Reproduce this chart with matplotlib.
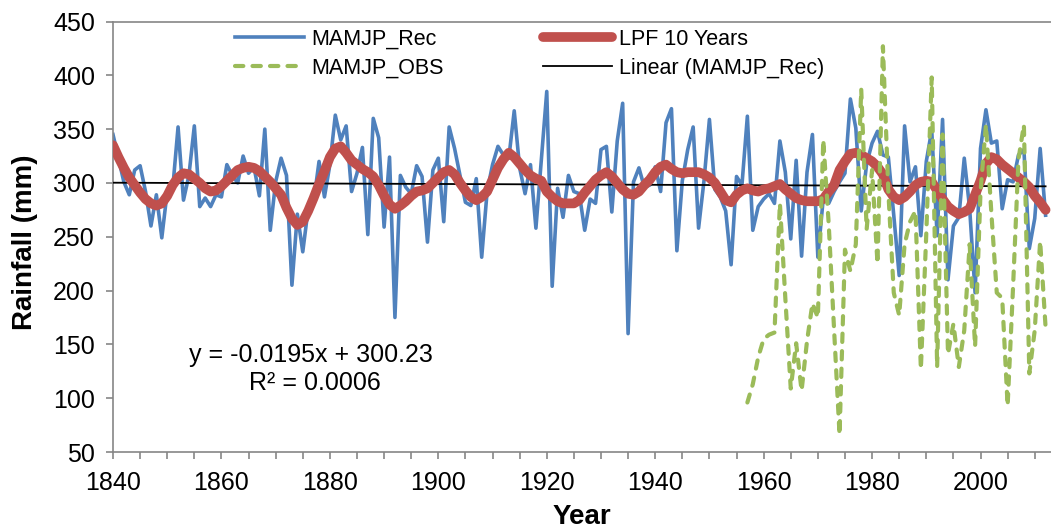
import numpy as np
import matplotlib
matplotlib.use("Agg")
import matplotlib.pyplot as plt
from matplotlib.ticker import MultipleLocator, FixedLocator

plt.rcParams['font.family'] = ['Liberation Sans', 'DejaVu Sans']

# Reconstructed MAM+JP rainfall, 1840-2012 (mm)
rec_years = np.arange(1840, 2013)
rec_values = [
    345, 323, 301, 289, 312, 316, 292, 260, 289, 249,   # 1840s
    292, 294, 352, 284, 307, 353, 278, 286, 278, 289,   # 1850s
    287, 317, 307, 300, 325, 309, 315, 288, 350, 256,   # 1860s
    301, 323, 307, 205, 271, 236, 276, 282, 320, 287,   # 1870s
    317, 363, 340, 353, 292, 309, 333, 252, 360, 342,   # 1880s
    259, 324, 175, 307, 296, 290, 316, 306, 245, 312,   # 1890s
    323, 264, 352, 332, 307, 282, 279, 304, 231, 292,   # 1900s
    317, 334, 326, 323, 367, 314, 290, 317, 258, 322,   # 1910s
    385, 204, 295, 268, 307, 292, 290, 256, 285, 281,   # 1920s
    331, 334, 273, 339, 374, 160, 301, 314, 296, 298,   # 1930s
    315, 292, 356, 369, 237, 302, 331, 352, 258, 302,   # 1940s
    359, 294, 287, 274, 224, 306, 298, 362, 256, 278,   # 1950s
    285, 290, 281, 339, 310, 248, 321, 232, 310, 345,   # 1960s
    231, 286, 281, 292, 301, 309, 378, 351, 274, 318,   # 1970s
    337, 348, 326, 324, 270, 214, 353, 301, 315, 251,   # 1980s
    320, 349, 251, 359, 210, 260, 268, 323, 276, 198,   # 1990s
    332, 368, 337, 339, 276, 303, 301, 326, 331, 239,   # 2000s
    267, 332, 270,                                      # 2010-2012
]

# 10-year low-pass filtered series
lpf_values = [
    335, 324, 314, 305, 298, 291, 285, 281, 279, 281,
    288, 298, 305, 309, 308, 304, 300, 295, 292, 293,
    297, 302, 307, 312, 314, 315, 314, 311, 306, 301,
    295, 289, 277, 267, 261, 264, 274, 286, 299, 311,
    324, 332, 334, 328, 321, 317, 313, 310, 306, 298,
    288, 280, 276, 279, 283, 288, 292, 293, 295, 300,
    305, 310, 312, 308, 300, 293, 287, 284, 287, 292,
    303, 314, 322, 328, 324, 318, 312, 307, 304, 302,
    292, 287, 283, 281, 281, 281, 284, 291, 297, 303,
    307, 310, 306, 300, 294, 290, 289, 292, 298, 303,
    310, 315, 317, 313, 310, 309, 310, 310, 310, 308,
    305, 300, 292, 284, 282, 289, 293, 295, 293, 292,
    294, 295, 297, 299, 294, 290, 286, 284, 283, 283,
    283, 285, 292, 298, 312, 320, 327, 328, 326, 323,
    320, 315, 308, 294, 287, 284, 287, 292, 298, 301,
    302, 301, 293, 285, 278, 274, 271, 273, 276, 289,
    302, 318, 324, 322, 317, 313, 309, 305, 301, 296,
    288, 282, 275,
]

# Observed MAM+JP rainfall, 1957-2012 (mm)
obs_years = np.arange(1957, 2013)
obs_values = [
    96, 113, 138,                                        # 1957-1959
    155, 159, 161, 281, 193, 109, 151, 107, 153, 188,    # 1960s
    175, 340, 262, 163, 66, 238, 218, 243, 387, 257,     # 1970s
    312, 225, 427, 292, 198, 177, 243, 264, 274, 127,    # 1980s
    253, 398, 129, 345, 141, 169, 129, 163, 243, 148,    # 1990s
    292, 354, 272, 198, 193, 93, 203, 322, 354, 123,     # 2000s
    163, 246, 166,                                       # 2010-2012
]

# Linear trend of the reconstruction (x = series index starting at 1)
trend_slope = -0.0195
trend_intercept = 300.23
trend_r2 = 0.0006

W, H = 1051, 531
fig = plt.figure(figsize=(W / 100, H / 100), dpi=100)
ax_top, ax_bottom = 21.5, 452
ax = fig.add_axes([113 / W, 1 - ax_bottom / H, (W - 113) / W, (ax_bottom - ax_top) / H])

c_rec = '#4F81BD'
c_lpf = '#C0504D'
c_obs = '#9BBB59'

h_rec, = ax.plot(rec_years, rec_values, color=c_rec, lw=2.6, zorder=2,
                 solid_joinstyle='round', label='MAMJP_Rec')
idx = np.arange(1, len(rec_years) + 1)
h_lin, = ax.plot(rec_years, trend_slope * idx + trend_intercept, color='black',
                 lw=1.3, zorder=3, label='Linear (MAMJP_Rec)')
h_lpf, = ax.plot(rec_years, lpf_values, color=c_lpf, lw=7, zorder=4,
                 solid_capstyle='round', solid_joinstyle='round', label='LPF 10 Years')
h_obs, = ax.plot(obs_years, obs_values, color=c_obs, lw=3, zorder=5,
                 linestyle=(0, (2, 2.2)), dash_capstyle='round',
                 dash_joinstyle='round', label='MAMJP_OBS')

ax.set_xlim(1840, 2013)
ax.set_ylim(50, 450)
ax.yaxis.set_major_locator(MultipleLocator(50))
ax.xaxis.set_major_locator(FixedLocator(np.arange(1840, 2013, 20)))
ax.xaxis.set_minor_locator(MultipleLocator(5))

spine_c = '#868686'
for s in ('left', 'bottom', 'top'):
    ax.spines[s].set_color(spine_c)
    ax.spines[s].set_linewidth(1.2)
ax.spines['right'].set_visible(False)

ax.tick_params(axis='both', which='both', direction='out', color=spine_c,
               width=1.2, length=5, labelsize=18, labelcolor='black')
ax.tick_params(axis='y', pad=8)
ax.tick_params(axis='x', pad=9)

fig.text(25 / W, 1 - 242 / H, 'Rainfall (mm)', rotation=90, ha='center',
         va='center', fontsize=20, fontweight='bold')
fig.text(582 / W, 1 - 517 / H, 'Year', ha='center', va='center',
         fontsize=20, fontweight='bold')

fig.text(311 / W, 1 - 355 / H, f'y = {trend_slope}x + {trend_intercept}',
         ha='center', va='center', fontsize=18)
fig.text(315 / W, 1 - 383 / H, f'R² = {trend_r2:.4f}',
         ha='center', va='center', fontsize=18)

fig.legend([h_rec, h_obs, h_lpf, h_lin],
           ['MAMJP_Rec', 'MAMJP_OBS', 'LPF 10 Years', 'Linear (MAMJP_Rec)'],
           ncol=2, loc='upper left', bbox_to_anchor=(235 / W, 1 - 29 / H),
           frameon=False, fontsize=15.5, handlelength=3.2, handletextpad=0.35,
           columnspacing=4.6, labelspacing=0.35, borderpad=0, borderaxespad=0)

fig.savefig('out.png', dpi=100)
